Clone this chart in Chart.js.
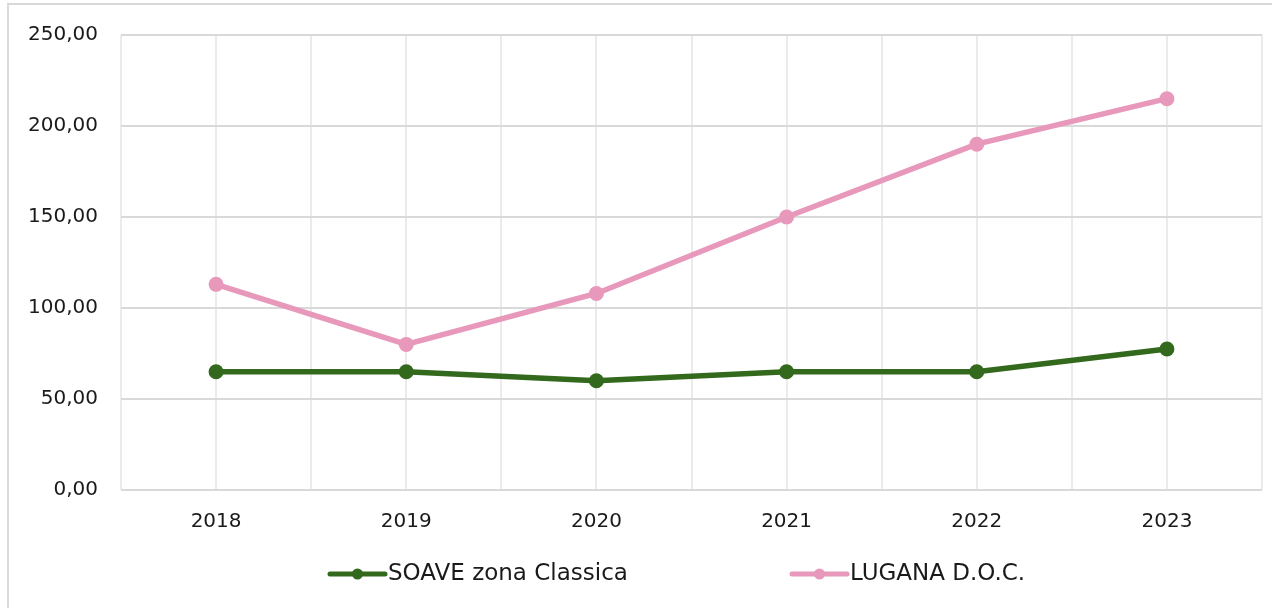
<!DOCTYPE html>
<html>
<head>
<meta charset="utf-8">
<script src="https://cdn.jsdelivr.net/npm/chart.js@4"></script>
<style>
    html, body { margin: 0; padding: 0; background: #fff; overflow: hidden; width: 1272px; height: 608px; }
    #frame {
        position: absolute;
        left: 7px; top: 3px;
        width: 1263px; height: 603px;
        border-top: 2px solid #d9d9d9;
        border-left: 2px solid #d9d9d9;
    }
    #chart { position: absolute; left: 0; top: 0; }
</style>
</head>
<body>
<div id="frame"></div>
<canvas id="chart" width="1272" height="608"></canvas>
<script>
// Dati (€/q)
const years = [2018, 2019, 2020, 2021, 2022, 2023];
const soaveValues = [65, 65, 60, 65, 65, 77.5];
const luganaValues = [113, 80, 108, 150, 190, 215];
const seriesNames = ['SOAVE zona Classica', 'LUGANA D.O.C.'];
const yTicks = [0, 50, 100, 150, 200, 250];

const GREEN = 'rgb(51, 105, 28)';
const PINK = 'rgb(232, 152, 186)';
const FONT = 'DejaVu Sans';

function toPoints(values) {
    return values.map((v, i) => ({ x: years[i], y: v }));
}

function formatIt(value) {
    return value.toFixed(2).replace('.', ',');
}

// Legenda disegnata a mano (linea + pallino + testo)
const lineLegend = {
    id: 'lineLegend',
    afterDraw(chart, args, opts) {
        const ctx = chart.ctx;
        ctx.save();
        ctx.font = opts.fontSize + 'px ' + FONT;
        ctx.textBaseline = 'middle';
        chart.data.datasets.forEach((ds, i) => {
            const x = opts.positions[i];
            const y = opts.y;
            ctx.strokeStyle = ds.borderColor;
            ctx.lineWidth = 5;
            ctx.lineCap = 'round';
            ctx.beginPath();
            ctx.moveTo(x, y);
            ctx.lineTo(x + opts.lineLength, y);
            ctx.stroke();
            ctx.fillStyle = ds.borderColor;
            ctx.beginPath();
            ctx.arc(x + opts.lineLength / 2, y, 5.5, 0, Math.PI * 2);
            ctx.fill();
            ctx.fillStyle = '#1a1a1a';
            ctx.fillText(ds.label, x + opts.lineLength + 3, y);
        });
        ctx.restore();
    }
};

const ctx = document.getElementById('chart').getContext('2d');
new Chart(ctx, {
    type: 'line',
    data: {
        datasets: [
            {
                label: seriesNames[0],
                data: toPoints(soaveValues),
                borderColor: GREEN,
                backgroundColor: GREEN,
                borderWidth: 5.5,
                pointRadius: 7.5,
                pointBorderWidth: 0,
                pointHoverRadius: 7.5,
                tension: 0
            },
            {
                label: seriesNames[1],
                data: toPoints(luganaValues),
                borderColor: PINK,
                backgroundColor: PINK,
                borderWidth: 5.5,
                pointRadius: 7.5,
                pointBorderWidth: 0,
                pointHoverRadius: 7.5,
                tension: 0
            }
        ]
    },
    options: {
        responsive: false,
        animation: false,
        layout: {
            padding: { left: 10, top: 34, right: 10, bottom: 0 }
        },
        plugins: {
            legend: { display: false },
            tooltip: { enabled: false },
            lineLegend: {
                positions: [330, 792],
                y: 574,
                lineLength: 55,
                fontSize: 23
            }
        },
        scales: {
            x: {
                type: 'linear',
                min: 2017.5,
                max: 2023.5,
                afterFit: function(scale) {
                    scale.height = 118;
                    scale.paddingLeft = 0;
                    scale.paddingRight = 0;
                },
                grid: { color: '#ebebeb', lineWidth: 2, drawTicks: false },
                border: { display: false },
                ticks: {
                    stepSize: 0.5,
                    autoSkip: false,
                    maxRotation: 0,
                    padding: 20,
                    color: '#1a1a1a',
                    font: { family: FONT, size: 20 },
                    callback: function(value) {
                        return Number.isInteger(value) ? String(value) : '';
                    }
                }
            },
            y: {
                min: yTicks[0],
                max: yTicks[yTicks.length - 1],
                afterFit: function(scale) { scale.width = 111; },
                grid: { color: '#d9d9d9', lineWidth: 2, drawTicks: false },
                border: { display: false },
                afterBuildTicks: function(scale) {
                    scale.ticks = yTicks.map(v => ({ value: v }));
                },
                ticks: {
                    padding: 23,
                    color: '#1a1a1a',
                    font: { family: FONT, size: 20 },
                    callback: function(value) {
                        return formatIt(value);
                    }
                }
            }
        }
    },
    plugins: [lineLegend]
});
</script>
</body>
</html>
